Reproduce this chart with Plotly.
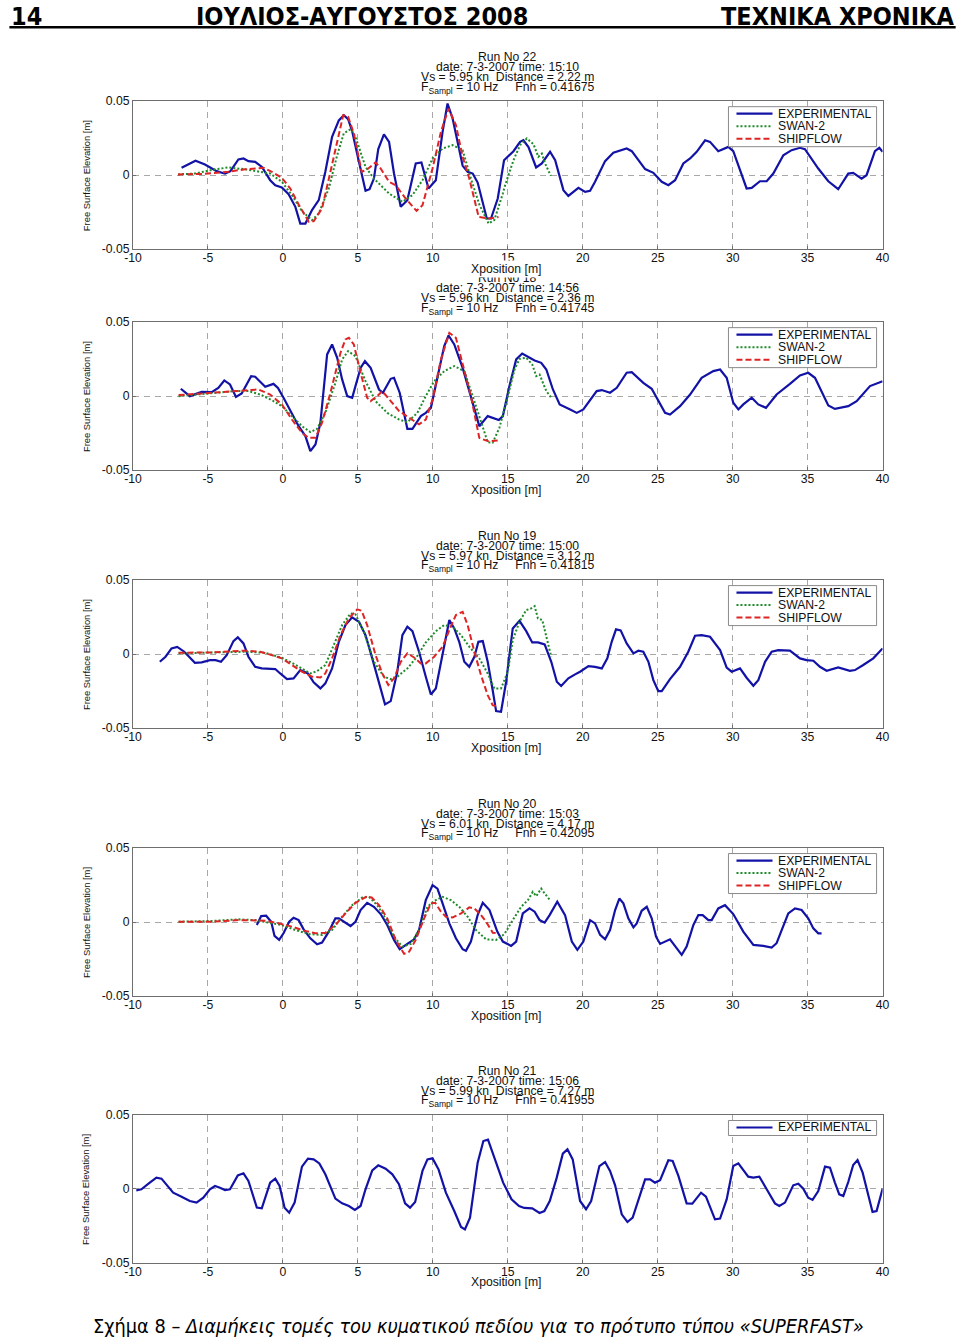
import plotly.graph_objects as go

# ---------------- data (x in m, free surface elevation in m) ----------------
RUNS = ["22", "18", "19", "20", "21"]
TITLE_DATE = ["date: 7-3-2007 time: 15:10", "date: 7-3-2007 time: 14:56",
              "date: 7-3-2007 time: 15:00", "date: 7-3-2007 time: 15:03",
              "date: 7-3-2007 time: 15:06"]
TITLE_VS = ["Vs = 5.95 kn  Distance = 2.22 m", "Vs = 5.96 kn  Distance = 2.36 m",
            "Vs = 5.97 kn  Distance = 3.12 m", "Vs = 6.01 kn  Distance = 4.17 m",
            "Vs = 5.99 kn  Distance = 7.27 m"]
TITLE_FNH = ["0.41675", "0.41745", "0.41815", "0.42095", "0.41955"]

X_TICKS = [-10, -5, 0, 5, 10, 15, 20, 25, 30, 35, 40]
X_TICKTEXT = ["-10", "-5", "0", "5", "10", "15", "20", "25", "30", "35", "40"]
Y_TICKS = [-0.05, 0, 0.05]
Y_TICKTEXT = ["-0.05", "0", "0.05"]

R22_EXP = [(-6.76,0.005),(-5.83,0.0097),(-5.2,0.0072),(-4.42,0.0027),(-3.86,0.001),(-3.5,0.0027),(-2.97,0.0106),(-2.63,0.0113),(-2.3,0.0095),(-1.85,0.009),(-1.4,0.0056),(-0.85,-0.0034),(-0.51,-0.0068),(-0.07,-0.0083),(0.38,-0.0128),(0.83,-0.0214),(1.16,-0.0327),(1.5,-0.0327),(1.94,-0.0236),(2.39,-0.0169),(2.83,0.0023),(3.28,0.0259),(3.73,0.037),(4.06,0.0405),(4.35,0.0378),(4.62,0.0297),(5.07,0.009),(5.51,-0.0106),(5.78,-0.0095),(6.07,-0.0023),(6.36,0.0176),(6.74,0.0275),(7.08,0.0225),(7.41,0.0011),(7.86,-0.0214),(8.3,-0.0169),(8.86,0.0079),(9.24,0.0086),(9.71,-0.009),(10.2,-0.0034),(10.65,0.0293),(10.98,0.0484),(11.32,0.0383),(11.65,0.0225),(11.99,0.0063),(12.32,0.0023),(12.66,0.0011),(12.99,-0.005),(13.33,-0.018),(13.6,-0.0293),(13.88,-0.0293),(14.33,-0.0158),(14.75,0.0101),(15.38,0.0162),(15.82,0.0225),(16.04,0.0236),(16.38,0.019),(16.89,0.0052),(17.27,0.0079),(17.82,0.0158),(18.16,0.0101),(18.71,-0.0101),(19.04,-0.014),(19.71,-0.0086),(20.16,-0.0113),(20.49,-0.0106),(20.82,-0.0045),(21.49,0.0095),(22.04,0.0151),(22.93,0.018),(23.27,0.0162),(24.16,0.0041),(24.71,0.0016),(25.27,-0.0045),(25.71,-0.0068),(26.16,-0.0034),(26.71,0.0079),(27.16,0.0113),(27.6,0.0158),(28.16,0.0236),(28.49,0.0225),(29.04,0.0162),(29.71,0.0191),(30.04,0.0162),(30.93,-0.009),(31.27,-0.0086),(31.82,-0.0041),(32.27,-0.0041),(32.71,0.0011),(33.38,0.0135),(33.93,0.0169),(34.49,0.0185),(34.82,0.0176),(35.71,0.0045),(36.38,-0.0041),(37.04,-0.0095),(37.71,0.0011),(38.04,0.0016),(38.6,-0.0023),(38.93,0.0),(39.49,0.0162),(39.78,0.0185),(40.0,0.0158)]
R22_SWAN = [(-7.0,0.0005),(-5.87,0.0011),(-4.53,0.004),(-3.64,0.0052),(-2.52,0.004),(-1.63,0.0027),(-0.85,0.0011),(-0.07,-0.0045),(0.6,-0.0135),(1.27,-0.0243),(1.94,-0.0304),(2.39,-0.0259),(3.06,-0.009),(3.62,0.0135),(4.06,0.0282),(4.51,0.0311),(4.84,0.0259),(5.51,0.0056),(6.07,-0.0023),(7.08,-0.0124),(7.97,-0.018),(8.64,-0.0135),(9.31,-0.0034),(9.98,0.0113),(10.65,0.018),(11.32,0.0203),(11.99,0.0169),(12.54,-0.0023),(13.1,-0.0198),(13.72,-0.0327),(14.1,-0.0304),(14.67,-0.0124),(14.82,-0.0068),(15.38,0.0101),(15.82,0.0203),(16.27,0.0248),(16.71,0.021),(17.04,0.0124),(17.27,0.0146),(17.49,0.0079),(17.87,-0.0005)]
R22_SHIP = [(-7.0,0.0005),(-5.2,0.0009),(-3.64,0.0023),(-2.52,0.004),(-1.29,0.005),(-0.74,0.0023),(-0.07,-0.0018),(0.49,-0.009),(1.05,-0.0198),(1.72,-0.0315),(2.05,-0.0311),(2.61,-0.0225),(3.17,0.0023),(3.73,0.0282),(4.02,0.0405),(4.35,0.0394),(4.73,0.0282),(5.25,0.0023),(5.56,0.0034),(6.18,0.0086),(6.52,0.0045),(7.08,-0.0045),(7.52,-0.0068),(8.19,-0.0158),(8.91,-0.0241),(9.31,-0.0203),(9.98,0.0045),(10.54,0.0293),(11.05,0.045),(11.54,0.0338),(11.99,0.0124),(12.43,-0.0023),(13.06,-0.0282),(13.78,-0.0293),(14.38,-0.0282)]

R18_EXP = [(-6.81,0.005),(-6.21,0.0),(-5.42,0.0029),(-4.75,0.0027),(-4.31,0.0056),(-3.91,0.0106),(-3.53,0.0079),(-3.13,-0.0005),(-2.75,0.0018),(-2.12,0.0135),(-1.85,0.0131),(-1.18,0.0063),(-0.63,0.0083),(-0.33,0.0056),(0.04,-0.0011),(0.49,-0.0101),(1.05,-0.0203),(1.5,-0.027),(1.83,-0.0372),(2.17,-0.0327),(2.5,-0.018),(2.95,0.0282),(3.28,0.0349),(3.62,0.0259),(3.95,0.0113),(4.29,0.0),(4.62,-0.0011),(5.18,0.0191),(5.47,0.0236),(5.85,0.0191),(6.41,0.0045),(6.67,0.0023),(7.19,0.0117),(7.41,0.0124),(7.79,0.0023),(8.3,-0.0221),(8.64,-0.0221),(9.2,-0.0135),(9.53,-0.0113),(9.87,-0.0079),(10.31,0.0135),(10.76,0.0338),(11.05,0.041),(11.43,0.0349),(11.99,0.0191),(12.54,0.0),(13.1,-0.0203),(13.66,-0.0135),(13.99,-0.0146),(14.4,-0.0162),(14.67,-0.0135),(15.11,0.0068),(15.56,0.0248),(15.96,0.0288),(16.34,0.0266),(16.79,0.0241),(17.23,0.0225),(17.57,0.018),(18.01,0.0045),(18.46,-0.0056),(19.16,-0.009),(19.6,-0.0113),(20.04,-0.009),(20.93,0.0034),(21.27,0.0041),(21.82,0.0023),(22.27,0.0056),(22.93,0.0158),(23.27,0.0162),(24.04,0.009),(24.6,0.005),(25.49,-0.0113),(25.82,-0.0124),(26.49,-0.0068),(27.16,0.0011),(27.93,0.0124),(28.71,0.0169),(29.16,0.018),(29.6,0.0124),(30.04,-0.0045),(30.38,-0.009),(30.71,-0.0056),(31.27,-0.0011),(31.71,-0.0056),(32.22,-0.0079),(32.93,0.0011),(33.82,0.0083),(34.49,0.014),(35.04,0.0158),(35.49,0.0124),(36.38,-0.0063),(36.82,-0.0086),(37.71,-0.0068),(38.27,-0.0034),(39.16,0.0068),(40.0,0.0101)]
R18_SWAN = [(-6.96,0.0),(-4.75,0.0018),(-3.19,0.0034),(-2.3,0.0034),(-1.52,0.0011),(-0.74,-0.0027),(-0.07,-0.0068),(0.6,-0.0135),(1.27,-0.0203),(1.83,-0.0243),(2.28,-0.0221),(2.83,-0.0113),(3.5,0.009),(3.95,0.0248),(4.35,0.0304),(4.84,0.027),(5.51,0.0101),(6.18,-0.0034),(6.96,-0.0113),(7.75,-0.0158),(8.3,-0.0176),(8.97,-0.0113),(9.53,0.0),(10.09,0.0101),(10.76,0.0169),(11.43,0.0203),(12.1,0.0169),(12.66,0.0),(13.21,-0.018),(13.66,-0.0311),(13.99,-0.0315),(14.44,-0.0214),(14.89,-0.0045),(15.45,0.018),(15.78,0.0252),(16.23,0.0259),(16.63,0.0214),(16.9,0.0135),(17.12,0.0146),(17.57,0.0034),(17.9,-0.0011)]
R18_SHIP = [(-6.96,0.0007),(-4.75,0.0023),(-2.52,0.004),(-1.63,0.0045),(-0.85,0.0011),(-0.07,-0.0056),(0.6,-0.0158),(1.27,-0.0248),(1.72,-0.0282),(2.17,-0.0282),(2.61,-0.018),(3.17,0.0023),(3.84,0.0293),(4.17,0.0383),(4.4,0.0394),(4.73,0.0349),(5.18,0.0158),(5.62,-0.0011),(5.85,-0.0034),(6.29,0.0),(6.63,0.0034),(7.19,-0.0034),(7.75,-0.0101),(8.42,-0.0146),(9.08,-0.0191),(9.53,-0.0158),(9.98,-0.0023),(10.54,0.0248),(11.1,0.0428),(11.54,0.0394),(11.99,0.0225),(12.54,0.0),(13.1,-0.0282),(13.66,-0.0304),(14.33,-0.03)]

R19_EXP = [(-8.21,-0.0052),(-7.83,-0.0018),(-7.43,0.0038),(-7.05,0.0049),(-6.58,0.0016),(-5.87,-0.0059),(-5.42,-0.0056),(-4.87,-0.0041),(-4.49,-0.0041),(-4.13,-0.0052),(-3.75,-0.0007),(-3.3,0.0088),(-3.01,0.0113),(-2.63,0.0072),(-2.3,-0.0018),(-1.85,-0.0086),(-1.41,-0.0097),(-0.85,-0.0097),(-0.51,-0.0101),(-0.18,-0.0131),(0.27,-0.0169),(0.71,-0.0164),(1.16,-0.0108),(1.67,-0.0131),(2.05,-0.0191),(2.5,-0.0232),(2.83,-0.0198),(3.28,-0.0097),(3.73,0.0083),(4.17,0.0196),(4.62,0.0248),(5.07,0.0218),(5.51,0.0128),(5.96,-0.0029),(6.41,-0.0187),(6.81,-0.034),(7.19,-0.0318),(7.63,-0.0119),(7.97,0.0128),(8.3,0.0185),(8.64,0.0155),(9.08,0.0016),(9.53,-0.0153),(9.87,-0.0273),(10.2,-0.0232),(10.65,0.0005),(11.1,0.023),(11.43,0.0173),(11.76,0.0083),(12.1,-0.0052),(12.43,-0.0086),(12.77,-0.0018),(13.04,0.0083),(13.33,0.0088),(13.66,-0.0052),(13.99,-0.0243),(14.22,-0.0385),(14.55,-0.039),(14.89,-0.0187),(15.33,0.0173),(15.78,0.0225),(16.23,0.0155),(16.63,0.0079),(17.01,0.0079),(17.46,0.0065),(17.9,-0.0052),(18.27,-0.0187),(18.56,-0.0216),(19.04,-0.0164),(19.49,-0.0137),(19.82,-0.0119),(20.38,-0.0081),(20.82,-0.0086),(21.27,-0.0097),(21.64,-0.0029),(21.93,0.0083),(22.22,0.0167),(22.53,0.016),(22.93,0.0072),(23.38,0.0005),(23.71,0.0023),(24.04,0.0016),(24.38,-0.0052),(24.71,-0.0176),(25.04,-0.025),(25.27,-0.025),(25.82,-0.0169),(26.49,-0.0086),(27.04,0.0016),(27.49,0.0124),(27.93,0.0128),(28.49,0.0117),(29.16,0.0027),(29.6,-0.0092),(29.93,-0.0119),(30.49,-0.0097),(30.93,-0.016),(31.38,-0.0214),(31.71,-0.0176),(32.16,-0.0052),(32.6,0.0016),(33.04,0.0027),(33.82,0.0023),(34.49,-0.0029),(34.93,-0.0041),(35.38,-0.0045),(35.82,-0.0086),(36.27,-0.0113),(37.04,-0.009),(37.82,-0.0113),(38.16,-0.0108),(38.71,-0.0074),(39.38,-0.0029),(40.0,0.0038)]
R19_SWAN = [(-6.96,0.0005),(-4.73,0.0011),(-2.52,0.0016),(-1.18,0.0009),(-0.07,-0.0025),(0.6,-0.0059),(1.27,-0.0101),(1.83,-0.0131),(2.28,-0.0115),(2.83,-0.0074),(3.39,0.0061),(3.95,0.0196),(4.51,0.0275),(4.84,0.0268),(5.4,0.0151),(6.07,-0.0052),(6.74,-0.0153),(7.19,-0.0169),(7.63,-0.0153),(8.3,-0.0097),(8.86,-0.0029),(9.53,0.0079),(10.2,0.0155),(10.76,0.0196),(11.32,0.0185),(11.88,0.0128),(12.43,0.005),(13.1,-0.0029),(13.66,-0.0131),(14.1,-0.0232),(14.55,-0.0232),(15.0,-0.0119),(15.33,0.0095),(15.78,0.0218),(16.23,0.0297),(16.56,0.0309),(16.79,0.0324),(17.01,0.0241),(17.3,0.023),(17.68,0.0061),(17.9,-0.0018)]
R19_SHIP = [(-6.96,0.0009),(-4.73,0.0011),(-2.52,0.0023),(-1.52,0.0016),(-0.96,0.0),(-0.07,-0.0029),(0.6,-0.0074),(1.27,-0.0119),(1.94,-0.0153),(2.5,-0.0158),(2.83,-0.0131),(3.28,-0.0029),(3.84,0.0128),(4.4,0.0241),(4.96,0.0302),(5.25,0.0293),(5.62,0.0196),(6.18,-0.0007),(6.63,-0.0131),(7.03,-0.0209),(7.41,-0.0164),(7.86,-0.0052),(8.3,0.0005),(8.75,-0.0023),(9.2,-0.0063),(9.53,-0.0063),(10.09,-0.0018),(10.65,0.005),(11.1,0.0162),(11.54,0.0264),(11.99,0.0286),(12.32,0.0196),(12.77,0.0016),(13.21,-0.0142),(13.66,-0.0277),(13.99,-0.0345),(14.38,-0.0356)]

R20_EXP = [(-1.74,-0.002),(-1.45,0.004),(-1.12,0.0043),(-0.78,0.0002),(-0.56,-0.0094),(-0.25,-0.0121),(0.04,-0.0076),(0.42,0.0002),(0.71,0.0029),(1.05,0.0013),(1.38,-0.0049),(1.83,-0.011),(2.28,-0.015),(2.61,-0.0139),(3.06,-0.0065),(3.5,0.0025),(3.73,0.0025),(4.11,0.0002),(4.51,-0.0027),(4.84,0.0002),(5.18,0.0081),(5.62,0.013),(6.07,0.0103),(6.52,0.0054),(6.96,-0.002),(7.41,-0.0121),(7.79,-0.0184),(8.3,-0.0148),(8.75,-0.0117),(9.08,-0.0054),(9.53,0.0148),(9.98,0.0249),(10.31,0.0226),(10.65,0.0126),(11.1,-0.0009),(11.54,-0.011),(11.99,-0.0184),(12.21,-0.0195),(12.54,-0.0132),(12.99,0.0047),(13.33,0.013),(13.78,0.0081),(14.3,-0.0065),(14.67,-0.0132),(15.22,-0.0161),(15.56,-0.0132),(16.0,0.0058),(16.45,0.0092),(16.79,0.007),(17.12,0.0013),(17.46,-0.0004),(17.79,0.0047),(18.3,0.0137),(18.82,0.0047),(19.27,-0.0132),(19.64,-0.0188),(20.04,-0.0132),(20.49,0.0013),(20.82,-0.0009),(21.16,-0.0087),(21.49,-0.0117),(21.82,-0.0054),(22.16,0.0081),(22.44,0.0159),(22.71,0.0126),(23.04,0.0025),(23.38,-0.0036),(23.6,-0.0009),(23.93,0.0076),(24.27,0.0103),(24.6,0.0025),(24.89,-0.0099),(25.16,-0.0148),(25.82,-0.0117),(26.27,-0.0177),(26.6,-0.0222),(26.93,-0.0166),(27.38,-0.002),(27.71,0.0047),(28.0,0.0047),(28.38,0.0013),(28.6,0.0013),(29.04,0.0092),(29.49,0.0114),(30.04,0.0054),(30.71,-0.0065),(31.38,-0.0155),(32.04,-0.0161),(32.6,-0.0173),(32.93,-0.0143),(33.27,-0.0054),(33.71,0.0058),(34.16,0.0092),(34.6,0.0081),(35.04,0.0025),(35.38,-0.0043),(35.71,-0.0076),(35.93,-0.0076)]
R20_SWAN = [(-6.96,0.0002),(-4.73,0.0007),(-2.95,0.0018),(-1.83,0.0013),(-0.96,-0.0004),(-0.07,-0.002),(0.83,-0.0054),(1.72,-0.0081),(2.61,-0.0087),(3.28,-0.0054),(3.95,0.0036),(4.62,0.0114),(5.29,0.0166),(5.74,0.017),(6.29,0.0114),(6.85,0.0025),(7.41,-0.0099),(7.97,-0.0166),(8.53,-0.0148),(9.08,-0.0054),(9.64,0.0103),(10.09,0.0143),(10.65,0.017),(11.21,0.0148),(11.76,0.0103),(12.32,0.0036),(12.88,-0.0054),(13.55,-0.0117),(14.22,-0.0121),(14.78,-0.0081),(15.33,0.0013),(15.89,0.0103),(16.34,0.0148),(16.67,0.0204),(16.9,0.0175),(17.23,0.0226),(17.46,0.0193),(17.79,0.0152)]
R20_SHIP = [(-6.96,0.0002),(-4.73,0.0002),(-2.95,0.0013),(-1.83,0.0013),(-1.16,0.0009),(-0.27,-0.0009),(0.6,-0.0031),(1.38,-0.0058),(2.17,-0.0076),(2.83,-0.0072),(3.5,-0.002),(4.17,0.0058),(4.84,0.013),(5.56,0.017),(5.92,0.0166),(6.41,0.0114),(6.96,0.0025),(7.52,-0.0121),(8.08,-0.0215),(8.42,-0.02),(8.86,-0.0121),(9.42,0.0025),(9.87,0.0126),(10.16,0.013),(10.54,0.007),(10.87,0.0036),(11.32,0.0031),(11.88,0.0058),(12.43,0.0099),(12.77,0.0092),(13.21,0.0047),(13.55,0.0002),(14.0,-0.0072),(14.38,-0.0076)]

R21_EXP = [(-9.78,-0.0009),(-9.44,-0.0002),(-8.88,0.0043),(-8.44,0.0077),(-8.1,0.007),(-7.77,0.0032),(-7.32,-0.0025),(-6.76,-0.0052),(-6.21,-0.0081),(-5.76,-0.0092),(-5.31,-0.0059),(-4.87,-0.0002),(-4.53,0.002),(-4.2,0.0009),(-3.86,-0.0007),(-3.53,-0.0002),(-3.01,0.0092),(-2.63,0.0106),(-2.3,0.0054),(-1.74,-0.0126),(-1.41,-0.0131),(-0.85,0.0043),(-0.51,0.007),(-0.22,0.002),(0.11,-0.0126),(0.42,-0.016),(0.78,-0.0092),(1.27,0.0151),(1.67,0.0205),(2.05,0.02),(2.43,0.0173),(2.83,0.0099),(3.5,-0.0065),(3.95,-0.0097),(4.4,-0.0115),(4.8,-0.0142),(5.18,-0.0115),(5.51,-0.0002),(5.96,0.0126),(6.36,0.016),(6.85,0.0137),(7.3,0.0099),(7.74,0.0032),(8.15,-0.0097),(8.48,-0.0126),(8.82,-0.0088),(9.31,0.0122),(9.64,0.02),(9.98,0.0207),(10.38,0.0133),(10.87,-0.0025),(11.43,-0.0149),(11.88,-0.0257),(12.14,-0.0273),(12.48,-0.0194),(12.99,0.0178),(13.37,0.0324),(13.68,0.0333),(14.13,0.0206),(14.69,0.0043),(15.25,-0.007),(15.75,-0.0115),(16.1,-0.0128),(16.63,-0.0131),(17.12,-0.0162),(17.44,-0.0149),(17.8,-0.0081),(18.26,0.0075),(18.67,0.0239),(18.98,0.0268),(19.33,0.02),(19.82,-0.0081),(20.22,-0.0137),(20.56,-0.0081),(21.11,0.0155),(21.49,0.0182),(21.82,0.0122),(22.16,0.0025),(22.6,-0.0171),(22.98,-0.0223),(23.33,-0.0194),(23.71,-0.007),(24.16,0.0065),(24.49,0.0065),(24.82,0.0043),(25.16,0.0059),(25.71,0.0194),(26.0,0.0189),(26.38,0.0088),(26.93,-0.0097),(27.31,-0.0099),(27.89,-0.0025),(28.22,-0.0052),(28.82,-0.0205),(29.16,-0.02),(29.6,-0.007),(30.04,0.0155),(30.38,0.0173),(31.04,0.0083),(31.38,0.0077),(31.78,0.0083),(32.27,-0.0002),(32.82,-0.0097),(33.11,-0.0115),(33.49,-0.0092),(34.04,0.0025),(34.38,0.0036),(34.71,0.0002),(35.04,-0.0059),(35.33,-0.0074),(35.71,-0.0014),(36.16,0.0151),(36.49,0.0144),(36.82,0.0043),(37.11,-0.0036),(37.38,-0.0047),(37.71,0.0047),(38.04,0.0162),(38.33,0.0196),(38.67,0.011),(39.04,-0.0047),(39.33,-0.0155),(39.6,-0.0149),(40.0,0.0002)]

PANEL_SERIES = [
    [R22_EXP, R22_SWAN, R22_SHIP],
    [R18_EXP, R18_SWAN, R18_SHIP],
    [R19_EXP, R19_SWAN, R19_SHIP],
    [R20_EXP, R20_SWAN, R20_SHIP],
    [R21_EXP],
]
SERIES_NAMES = ["EXPERIMENTAL", "SWAN-2", "SHIPFLOW"]

# ---------------- styling / layout ----------------
# Positions below are written in 960x1341 page-image pixels; fx/fy convert them to
# paper fractions of a slightly larger figure (the photographed page maps figure
# pixels to image pixels as image = S * fig + A).
FW, FH = 968, 1349
SX, AX = 0.9827, 10.1
SY, AY = 0.9898, 6.8
FONT = "Liberation Sans, Arial, sans-serif"
COLORS = ["#1212a6", "#1f8a2a", "#de2424"]
DASHES = ["solid", "2px,2px", "6px,3px"]
WIDTHS = [2.2, 2.0, 2.0]

PANEL_TOPS = [101, 322, 580, 848, 1115]
PANEL_H = 148
AX_L, AX_R = 134, 883


def fx(p):
    return ((p - AX) / SX) / FW


def fy(p):
    return 1 - ((p - AY) / SY) / FH


fig = go.Figure()
shapes = []
annotations = []
layout_axes = {}

for i, series in enumerate(PANEL_SERIES):
    n = "" if i == 0 else str(i + 1)
    top = PANEL_TOPS[i]
    bot = top + PANEL_H
    for k, pts in enumerate(series):
        fig.add_trace(go.Scatter(
            x=[p[0] for p in pts], y=[p[1] for p in pts], mode="lines",
            name=SERIES_NAMES[k], showlegend=False, hoverinfo="skip",
            line=dict(color=COLORS[k], width=WIDTHS[k], dash=DASHES[k]),
            xaxis="x" + n, yaxis="y" + n))
    axis_common = dict(
        showgrid=True, gridcolor="#a8a8a8", gridwidth=1, griddash="6px,5px",
        showline=True, linecolor="#6e6e6e", linewidth=1, mirror=True,
        ticks="inside", ticklen=3, tickcolor="#6e6e6e", zeroline=False,
        tickfont=dict(family=FONT, size=12.2, color="#111"), fixedrange=True)
    layout_axes["xaxis" + n] = dict(
        axis_common, domain=[fx(AX_L), fx(AX_R)], range=[-10, 40],
        tickvals=X_TICKS, ticktext=X_TICKTEXT, anchor="y" + n, ticklabelstandoff=-3)
    layout_axes["yaxis" + n] = dict(
        axis_common, domain=[fy(bot), fy(top)], range=[-0.05, 0.05],
        tickvals=Y_TICKS, ticktext=Y_TICKTEXT, anchor="x" + n)

    # titles
    cx = fx(508)
    title_lines = [("Run No " + RUNS[i], -43.8), (TITLE_DATE[i], -34.5), (TITLE_VS[i], -24.3),
                   ("F<sub>Sampl</sub> = 10 Hz\u00a0\u00a0\u00a0\u00a0 Fnh = " + TITLE_FNH[i], -13.6)]
    for txt, off in title_lines:
        annotations.append(dict(text=txt.replace("  ", "\u00a0 "), x=cx, y=fy(top + off),
                                xref="paper", yref="paper", showarrow=False,
                                xanchor="center", yanchor="middle",
                                font=dict(family=FONT, size=12.2, color="#111")))
    # y-axis title
    annotations.append(dict(text="Free Surface Elevation [m]", x=fx(87), y=fy(top + 74),
                            xref="paper", yref="paper", showarrow=False, textangle=-90,
                            xanchor="center", yanchor="middle",
                            font=dict(family=FONT, size=9.4, color="#111")))
    # legend
    nser = len(series)
    box_b = top + 5.5 + 13 + 12.5 * (nser - 1) + 2
    shapes.append(dict(type="rect", xref="paper", yref="paper",
                       x0=fx(729), x1=fx(877), y0=fy(top + 5.5), y1=fy(box_b),
                       line=dict(color="#8a8a8a", width=1), fillcolor="white", layer="above"))
    for k in range(nser):
        ly = top + 12.5 + 12.5 * k
        shapes.append(dict(type="line", xref="paper", yref="paper",
                           x0=fx(737), x1=fx(773), y0=fy(ly), y1=fy(ly),
                           line=dict(color=COLORS[k], width=WIDTHS[k], dash=DASHES[k]),
                           layer="above"))
        annotations.append(dict(text=SERIES_NAMES[k], x=fx(776), y=fy(ly), xref="paper",
                                yref="paper", showarrow=False, xanchor="left",
                                yanchor="middle",
                                font=dict(family=FONT, size=12.2, color="#111")))

# x-axis titles drawn after titles so the first one overlaps the next run title
for i in range(5):
    bot = PANEL_TOPS[i] + PANEL_H
    annotations.append(dict(text="Xposition [m]", x=fx(507), y=fy(bot + 19.5),
                            xref="paper", yref="paper", showarrow=False,
                            xanchor="center", yanchor="middle",
                            bgcolor="white" if i == 0 else None,
                            font=dict(family=FONT, size=12.2, color="#111")))

# page header
HEAD_FONT = "DejaVu Sans Condensed, DejaVu Sans, sans-serif"
HEAD_Y = 16.5
annotations += [
    dict(text="<b>14</b>", x=fx(10.5), y=fy(HEAD_Y), xanchor="left"),
    dict(text="<b>ΙΟΥΛΙΟΣ-ΑΥΓΟΥΣΤΟΣ 2008</b>", x=fx(363), y=fy(HEAD_Y), xanchor="center"),
    dict(text="<b>ΤΕΧΝΙΚΑ ΧΡΟΝΙΚΑ</b>", x=fx(956), y=fy(HEAD_Y), xanchor="right"),
]
for a in annotations[-3:]:
    a.update(xref="paper", yref="paper", showarrow=False, yanchor="middle",
             font=dict(family=HEAD_FONT, size=25, color="black"))
shapes.append(dict(type="line", xref="paper", yref="paper", x0=fx(10.5), x1=fx(956),
                   y0=fy(27), y1=fy(27), line=dict(color="black", width=2.5)))

# caption
annotations.append(dict(
    text="Σχήμα 8 – <i>Διαμήκεις τομές του κυματικού πεδίου για το πρότυπο τύπου «SUPERFAST»</i>",
    x=fx(92), y=fy(1327), xref="paper", yref="paper", showarrow=False,
    xanchor="left", yanchor="middle",
    font=dict(family=HEAD_FONT, size=19.8, color="black")))

fig.update_layout(
    width=FW, height=FH, margin=dict(l=0, r=0, t=0, b=0),
    paper_bgcolor="white", plot_bgcolor="white", showlegend=False,
    shapes=shapes, annotations=annotations, **layout_axes)

fig.write_html("out.html", config={"displayModeBar": False},
               post_script="document.body.style.margin='0';")
